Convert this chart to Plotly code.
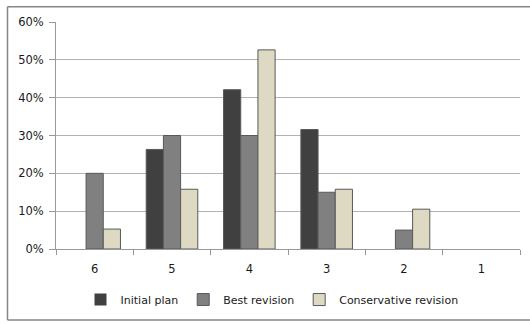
import plotly.graph_objects as go

categories = ["6", "5", "4", "3", "2", "1"]
initial_plan = [0.0, 5 / 19, 8 / 19, 6 / 19, 0.0, 0.0]
best_revision = [0.20, 0.30, 0.30, 0.15, 0.05, 0.0]
conservative_revision = [1 / 19, 3 / 19, 10 / 19, 3 / 19, 2 / 19, 0.0]

series = [
    ("Initial plan", initial_plan, "#404040"),
    ("Best revision", best_revision, "#808080"),
    ("Conservative revision", conservative_revision, "#DDD9C3"),
]

fig = go.Figure()
for name, values, color in series:
    # empty bars get no outline so zero values stay invisible
    widths = [1 if v > 0 else 0 for v in values]
    fig.add_trace(go.Bar(
        x=categories, y=values, name=name,
        marker=dict(color=color, line=dict(color="#595959", width=widths)),
    ))

W, H = 530, 324
ml, mr, mt, mb = 56, 10, 22, 73
pw, ph = W - ml - mr, H - mt - mb

def px_to_paper_x(x):
    return (x - ml) / pw

def px_to_paper_y(y):
    return (H - mb - y) / ph

tick_font = dict(family="DejaVu Sans", size=11.5, color="#1a1a1a")
legend_font = dict(family="DejaVu Sans", size=11, color="#1a1a1a")

# chart-area frame: top, left and bottom edges (right edge falls off the page)
fx0, fx1 = px_to_paper_x(7.5), px_to_paper_x(530)
fy0, fy1 = px_to_paper_y(322.5), px_to_paper_y(6.5)
frame_line = dict(color="#868686", width=1.5)
frame = [
    dict(type="line", xref="paper", yref="paper", x0=fx0, x1=fx1, y0=fy1, y1=fy1, line=frame_line),
    dict(type="line", xref="paper", yref="paper", x0=fx0, x1=fx0, y0=fy0, y1=fy1, line=frame_line),
    dict(type="line", xref="paper", yref="paper", x0=fx0, x1=fx1, y0=fy0, y1=fy0, line=frame_line),
]

fig.update_layout(
    width=W, height=H,
    margin=dict(l=ml, r=mr, t=mt, b=mb),
    paper_bgcolor="white", plot_bgcolor="white",
    barmode="group", bargap=0.333, bargroupgap=0,
    font=legend_font,
    showlegend=True,
    legend=dict(
        orientation="h", x=px_to_paper_x(272), xanchor="center",
        y=px_to_paper_y(302), yanchor="middle",
        font=legend_font, itemwidth=30, traceorder="normal",
    ),
    xaxis=dict(
        type="category", tickson="boundaries", ticks="outside", ticklen=5,
        tickcolor="#999999", showline=True, linecolor="#999999", linewidth=1,
        showgrid=False, tickfont=tick_font, ticklabelstandoff=9,
    ),
    yaxis=dict(
        range=[0, 0.6], dtick=0.1, tickformat=".0%", ticks="outside", ticklen=6,
        tickcolor="#999999", showline=True, linecolor="#999999", linewidth=1,
        showgrid=True, gridcolor="#B3B3B3", gridwidth=1, zeroline=False,
        tickfont=tick_font, ticklabelstandoff=3,
    ),
    shapes=frame,
)

fig.write_html("out.html", config={"displayModeBar": False})
